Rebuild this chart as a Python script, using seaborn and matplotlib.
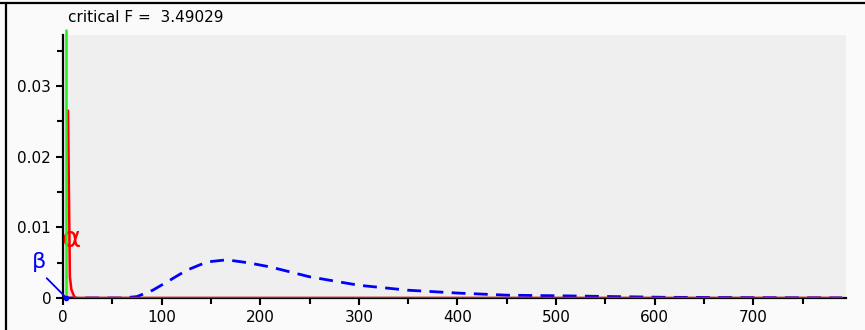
import matplotlib
matplotlib.use("Agg")
import matplotlib.pyplot as plt
import seaborn as sns
import pandas as pd
import numpy as np
from matplotlib.lines import Line2D

# critical value of F
crit_f = 3.49029

# central F density (alpha region)
central_x = [5.1, 7.0, 8.5, 12.0, 790.0]
central_y = [0.0265, 0.003, 0.0012, 0.0, 0.0]

# noncentral F density (dashed)
noncentral_x = [0, 60, 75, 91, 107, 125, 146, 166, 187, 210, 250, 300,
                350, 400, 450, 510, 610, 700, 790]
noncentral_y = [0.0, 0.0, 0.0002, 0.0011, 0.0024, 0.0039, 0.0051, 0.0054,
                0.0050, 0.0044, 0.0030, 0.0018, 0.0011, 0.0007, 0.0004,
                0.0003, 0.0001, 0.00005, 0.00002]

x_ticks = [0, 100, 200, 300, 400, 500, 600, 700]
y_ticks = [0, 0.01, 0.02, 0.03]
y_tick_labels = ["0", "0.01", "0.02", "0.03"]

sns.set_style("ticks", {"axes.facecolor": "#efefef", "figure.facecolor": "#fafafa",
                        "text.color": "black", "xtick.color": "black",
                        "ytick.color": "black"})
plt.rcParams["font.family"] = ["DejaVu Sans"]

fig = plt.figure(figsize=(8.65, 3.30), dpi=100)
ax = fig.add_axes([63 / 865, 32 / 330, (846 - 63) / 865, (298 - 35) / 330])

central = pd.DataFrame({"F": central_x, "density": central_y})
noncentral = pd.DataFrame({"F": noncentral_x, "density": noncentral_y})

# shaded alpha region
ax.fill_between([crit_f] + central_x[:4], [central_y[0]] + central_y[:4],
                color="#ffb0b0", alpha=0.5, lw=0, zorder=1)

sns.lineplot(data=noncentral, x="F", y="density", ax=ax, color="#0000ff",
             lw=2.0, zorder=3)
ax.lines[-1].set_linestyle((0, (5, 3)))
sns.lineplot(data=central, x="F", y="density", ax=ax, color="#ff0000",
             lw=1.8, zorder=4)

# critical F line reaching above the plot area
ax.axvline(crit_f, ymin=0, ymax=0.0379 / 0.0372, color="#22ee22", lw=1.8,
           clip_on=False, zorder=5)

# beta pointer
ax.plot([-16.5, crit_f], [0.0028, 0.0], color="#0000ff", lw=1.3,
        clip_on=False, zorder=6)
ax.plot([crit_f], [0.0], marker="o", ms=3, color="#0000ff", clip_on=False, zorder=6)
ax.text(-24.5, 0.0051, "β", color="#0000ff", fontsize=16, ha="center",
        va="center", clip_on=False)
ax.text(8, 0.0084, "α", color="#ff0000", fontsize=21, ha="center", va="center")

ax.set_xlim(0, 794)
ax.set_ylim(0, 0.0372)
ax.set_xticks(x_ticks)
ax.set_xticks(np.arange(50, 800, 100), minor=True)
ax.set_yticks(y_ticks)
ax.set_yticklabels(y_tick_labels)
ax.set_yticks([0.005, 0.015, 0.025, 0.035], minor=True)
ax.tick_params(axis="both", which="major", length=5, width=1.5, labelsize=11,
               direction="out", color="black", labelcolor="black")
ax.tick_params(axis="both", which="minor", length=4, width=1.5, direction="out",
               color="black")
ax.set_xlabel("")
ax.set_ylabel("")
for side in ["top", "right"]:
    ax.spines[side].set_visible(False)
for side in ["left", "bottom"]:
    ax.spines[side].set_linewidth(1.6)
    ax.spines[side].set_color("black")

fig.text(68 / 865, 1 - 18 / 330, "critical F =  3.49029", fontsize=11,
         ha="left", va="center", color="black")

# outer frame lines
fig.add_artist(Line2D([6 / 865, 6 / 865], [0, 1 - 3 / 330], color="black",
                      lw=1.6, transform=fig.transFigure))
fig.add_artist(Line2D([0, 1], [1 - 3 / 330, 1 - 3 / 330], color="black",
                      lw=1.6, transform=fig.transFigure))

fig.savefig("out.png", dpi=100, facecolor=fig.get_facecolor())
